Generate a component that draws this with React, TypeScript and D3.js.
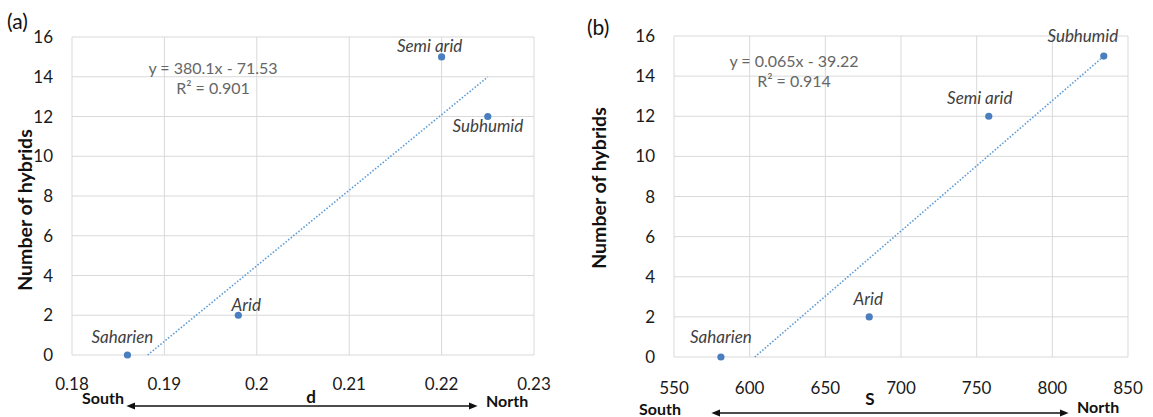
import * as d3 from 'd3'

// panel (a): genetic diversity d
const climatesA = ['Saharien', 'Arid', 'Semi arid', 'Subhumid']
const dValues = [0.186, 0.198, 0.22, 0.225]
const hybridsA = [0, 2, 15, 12]
const xTicksA = [0.18, 0.19, 0.2, 0.21, 0.22, 0.23]
const trendA = [380.1, -71.53]
const eqA = ['y = 380.1x - 71.53', 'R² = 0.901']

// panel (b): S
const climatesB = ['Saharien', 'Arid', 'Semi arid', 'Subhumid']
const sValues = [581, 679, 758, 834]
const hybridsB = [0, 2, 12, 15]
const xTicksB = [550, 600, 650, 700, 750, 800, 850]
const trendB = [0.065, -39.22]
const eqB = ['y = 0.065x - 39.22', 'R² = 0.914']

const yTicks = [0, 2, 4, 6, 8, 10, 12, 14, 16]

const FONT = 'Lato, "Open Sans", sans-serif'
const GRID = '#d9d9d9'
const DOT = '#4a7ebf'
const TREND = '#5b9bd5'

type Layout = {
  x0: number; x1: number; y0: number; y1: number
  tickDy: number
  labelOff: Record<string, [number, number]>
  eqX: number; eqY: number
  titleX: number; titleY: number
  tag: string; tagX: number; tagY: number
  arrow: [number, number, number]
  south: [number, number]; north: [number, number]
  varName: string; varPos: [number, number]
}

function Panel({ xs, ys, names, xTicks, trend, eq, L }: {
  xs: number[]; ys: number[]; names: string[]; xTicks: number[]
  trend: number[]; eq: string[]; L: Layout
}) {
  const x = d3.scaleLinear().domain([xTicks[0], xTicks[xTicks.length - 1]]).range([L.x0, L.x1])
  const y = d3.scaleLinear().domain([0, 16]).range([L.y0, L.y1])
  const [m, b] = trend
  // excel style trendline over the data range, clipped at the axis floor
  const lo = Math.max(d3.min(xs)!, -b / m)
  const hi = d3.max(xs)!
  const line = d3.line<number>().x((v) => x(v)).y((v) => y(m * v + b))

  return (
    <g fontFamily={FONT}>
      {xTicks.map((t) => (
        <line key={'vx' + t} x1={x(t)} x2={x(t)} y1={L.y0} y2={L.y1} stroke={GRID} />
      ))}
      {yTicks.map((t) => (
        <line key={'hy' + t} x1={L.x0} x2={L.x1} y1={y(t)} y2={y(t)} stroke={GRID} />
      ))}
      {yTicks.map((t) => (
        <text key={'ty' + t} x={L.x0 - 19} y={y(t) + 6} textAnchor="end" fontSize={17} fill="#1a1a1a">{t}</text>
      ))}
      {xTicks.map((t) => (
        <text key={'tx' + t} x={x(t)} y={L.y0 + L.tickDy} textAnchor="middle" fontSize={17} fill="#1a1a1a">{String(t)}</text>
      ))}
      <path d={line([lo, hi]) ?? ''} fill="none" stroke={TREND} strokeWidth={1.6} strokeDasharray="1.5 1.8" />
      {xs.map((v, i) => (
        <circle key={names[i]} cx={x(v)} cy={y(ys[i])} r={3.6} fill={DOT} />
      ))}
      {xs.map((v, i) => {
        const [dx, dy] = L.labelOff[names[i]]
        return (
          <text key={'l' + names[i]} x={x(v) + dx} y={y(ys[i]) + dy} textAnchor="middle"
            fontSize={17} fontStyle="italic" fill="#404040">{names[i]}</text>
        )
      })}
      <text x={L.eqX} y={L.eqY} textAnchor="middle" fontSize={16} fill="#666">{eq[0]}</text>
      <text x={L.eqX} y={L.eqY + 20} textAnchor="middle" fontSize={16} fill="#666">{eq[1]}</text>
      <text transform={`translate(${L.titleX},${L.titleY}) rotate(-90)`} textAnchor="middle"
        fontSize={19.5} fontWeight="bold" fill="#111">Number of hybrids</text>
      <text x={L.tagX} y={L.tagY} fontSize={21} fill="#111">{L.tag}</text>
      <line x1={L.arrow[0]} x2={L.arrow[1]} y1={L.arrow[2]} y2={L.arrow[2]} stroke="#111" strokeWidth={1.5}
        markerStart="url(#ah)" markerEnd="url(#ah)" />
      <text x={L.south[0]} y={L.south[1]} textAnchor="end" fontSize={16} fontWeight="bold" fill="#111">South</text>
      <text x={L.north[0]} y={L.north[1]} fontSize={16} fontWeight="bold" fill="#111">North</text>
      <text x={L.varPos[0]} y={L.varPos[1]} textAnchor="middle" fontSize={17} fontWeight="bold" fill="#111">{L.varName}</text>
    </g>
  )
}

const layoutA: Layout = {
  x0: 72, x1: 534, y0: 355, y1: 37, tickDy: 35,
  labelOff: { Saharien: [-5, -12], Arid: [8, -4], 'Semi arid': [-12, -5], Subhumid: [0, 15] },
  eqX: 213, eqY: 74, titleX: 32, titleY: 210,
  tag: '(a)', tagX: 7, tagY: 29,
  arrow: [130, 474, 406], south: [124, 404], north: [486, 407], varName: 'd', varPos: [311, 403],
}

const layoutB: Layout = {
  x0: 674, x1: 1128, y0: 357, y1: 36, tickDy: 37,
  labelOff: { Saharien: [0, -14], Arid: [-1, -12], 'Semi arid': [-9, -12], Subhumid: [-21, -14] },
  eqX: 794, eqY: 67, titleX: 606, titleY: 188,
  tag: '(b)', tagX: 587, tagY: 35,
  arrow: [715, 1065, 413], south: [681, 415], north: [1077, 413], varName: 'S', varPos: [870, 405],
}

export default function App() {
  return (
    <div style={{ position: 'absolute', left: 0, top: 0, width: 1153, height: 417, background: '#fff' }}>
      <svg width={1153} height={417} style={{ display: 'block' }}>
        <defs>
          <marker id="ah" viewBox="0 0 10 10" refX="6" refY="5" markerWidth="6" markerHeight="6"
            orient="auto-start-reverse" markerUnits="strokeWidth">
            <path d="M0,1 L10,5 L0,9 Z" fill="#111" />
          </marker>
        </defs>
        <Panel xs={dValues} ys={hybridsA} names={climatesA} xTicks={xTicksA} trend={trendA} eq={eqA} L={layoutA} />
        <Panel xs={sValues} ys={hybridsB} names={climatesB} xTicks={xTicksB} trend={trendB} eq={eqB} L={layoutB} />
      </svg>
    </div>
  )
}
